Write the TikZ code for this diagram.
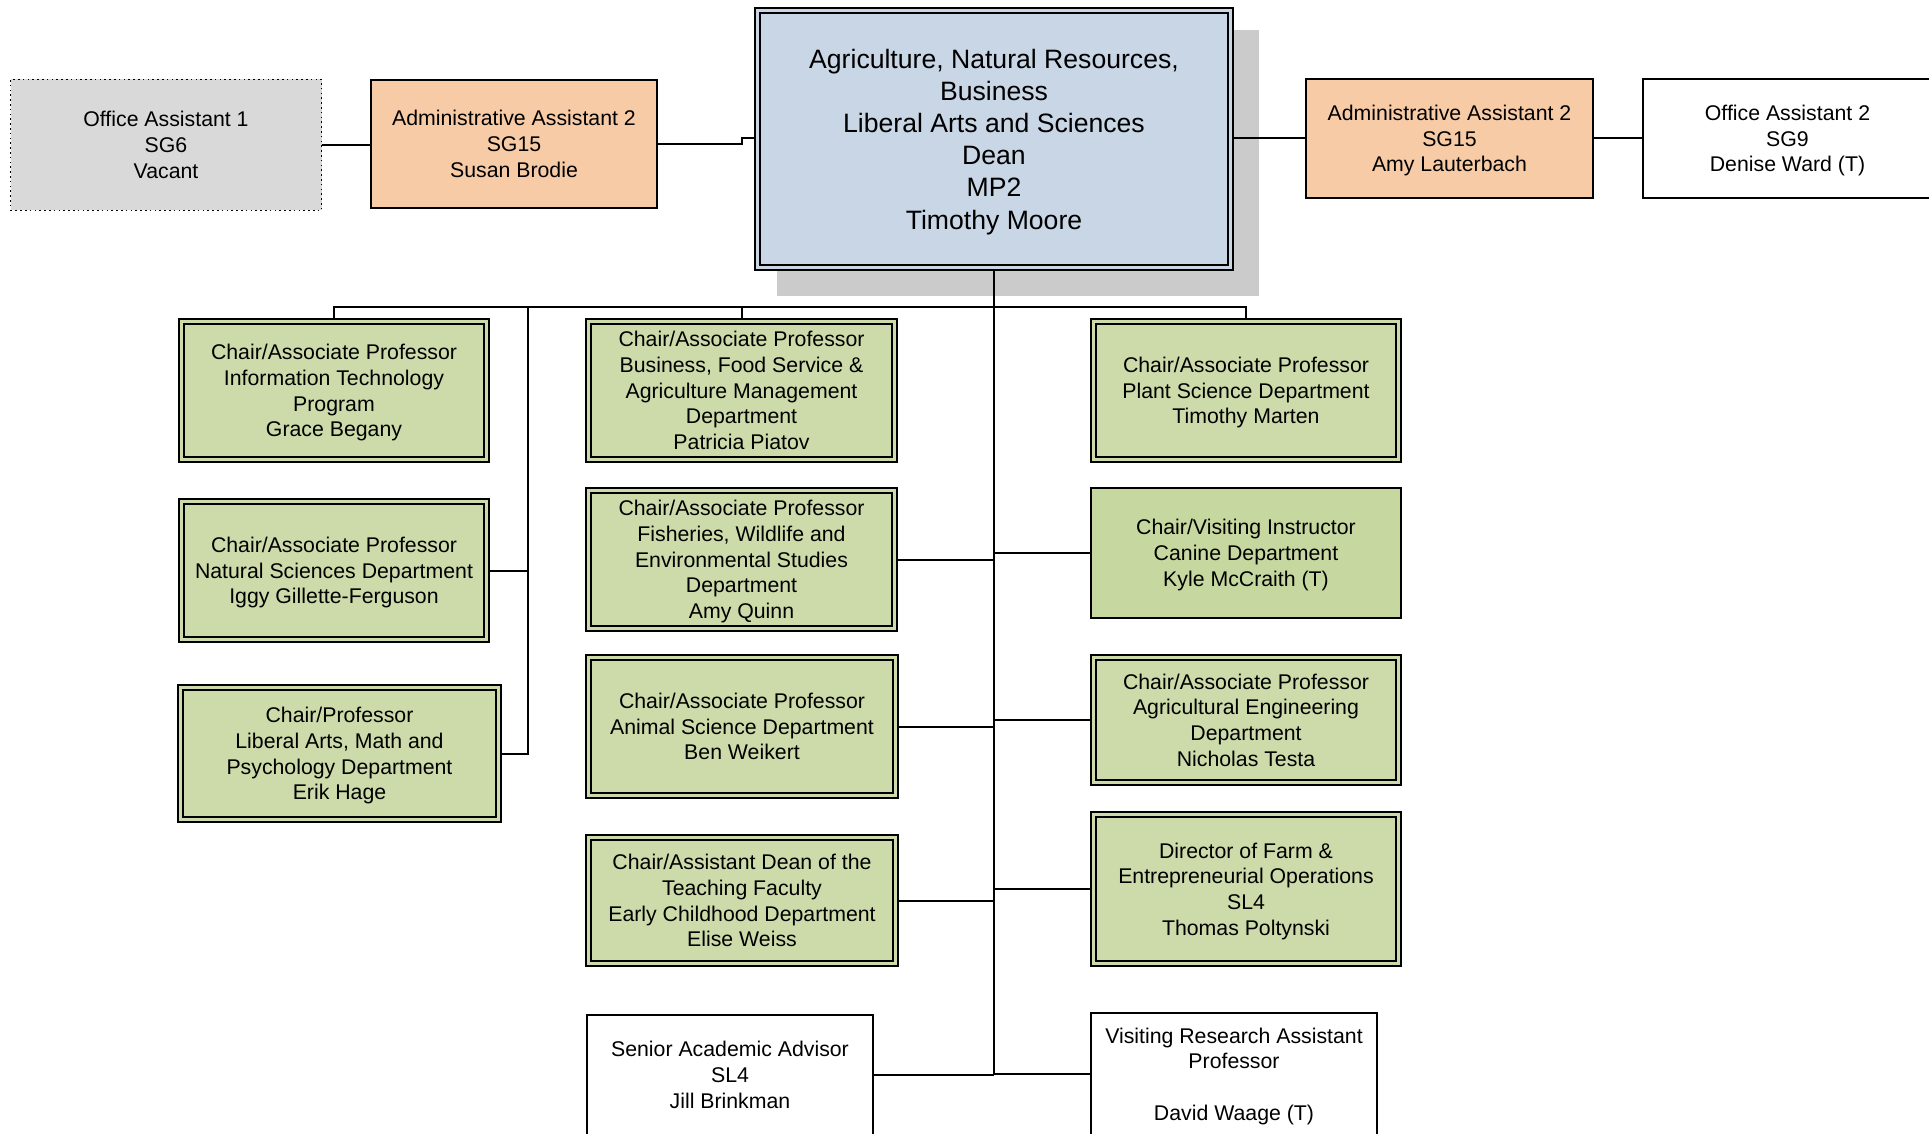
\documentclass[tikz,border=0pt]{standalone}
\usepackage{fontspec}
\setmainfont{Liberation Sans}
\usetikzlibrary{fit}
\definecolor{greenfill}{HTML}{CCDBA9}
\definecolor{caninefill}{HTML}{C6D89F}
\definecolor{peach}{HTML}{F8CBA7}
\definecolor{deanblue}{HTML}{C8D6E6}
\definecolor{vacantgray}{HTML}{D9D9D9}
\definecolor{shadowgray}{HTML}{CBCBCB}
\pgfdeclarelayer{bg}
\pgfsetlayers{bg,main}
\newcommand\topstrut{\rule{0pt}{0.97em}}
\newcommand\botstrut{\rule[-0.25em]{0pt}{0.25em}}
% #1 box style, #2 text style, #3 name, #4 inset, #5 x1, #6 y1, #7 x2, #8 y2, #9 text
\newcommand\obox[9]{%
  \node[#1, fit={(#5+#4,#6+#4) (#7-#4,#8-#4)}] (#3) {};
  \node[#2] (#3-t) at (#3.center) {\topstrut#9\botstrut};}
\tikzset{
  every node/.style={align=center, inner sep=0pt, outer sep=0pt},
  txt/.style={font=\fontsize{10.64}{12.85}\selectfont, text=black},
  deantxt/.style={font=\fontsize{13.3}{16.1}\selectfont, text=black},
  grn/.style={rectangle, draw=black, fill=greenfill, line width=1.05pt, double=greenfill, double distance=1.35pt},
  plain/.style={rectangle, draw=black, fill=caninefill, line width=1.1pt},
  peachbox/.style={rectangle, draw=black, fill=peach, line width=1pt},
  whitebox/.style={rectangle, draw=black, fill=white, line width=1pt},
  vacant/.style={rectangle, draw=black, fill=vacantgray, line width=0.8pt, dash pattern=on 0.8pt off 1.6pt},
  deanbox/.style={rectangle, draw=black, fill=deanblue, line width=1.2pt, double=deanblue, double distance=1.1pt},
  conn/.style={draw=black, line width=1pt}
}
\begin{document}
\begin{tikzpicture}[x=0.5pt, y=-0.5pt]
\path[use as bounding box] (0,0) rectangle (1929,1134);
\clip (0,0) rectangle (1929,1134);
% top row
\obox{vacant}{txt}{oa1}{0.5}{10}{79}{322}{211}{Office Assistant 1\\SG6\\Vacant}
\obox{peachbox}{txt}{aa2l}{1}{370}{79}{658}{209}{Administrative Assistant 2\\SG15\\Susan Brodie}
\obox{deanbox}{deantxt}{dean}{3.5}{754}{7}{1234}{271}{Agriculture, Natural Resources,\\Business\\Liberal Arts and Sciences\\Dean\\MP2\\Timothy Moore}
\obox{peachbox}{txt}{aa2r}{1}{1305}{78}{1594}{199}{Administrative Assistant 2\\SG15\\Amy Lauterbach}
\obox{whitebox}{txt}{oa2}{1}{1642}{78}{1933}{199}{Office Assistant 2\\SG9\\Denise Ward (T)}
% left column
\obox{grn}{txt}{it}{3.5}{178}{318}{490}{463}{Chair/Associate Professor\\Information Technology\\Program\\Grace Begany}
\obox{grn}{txt}{nat}{3.5}{178}{498}{490}{643}{Chair/Associate Professor\\Natural Sciences Department\\Iggy Gillette-Ferguson}
\obox{grn}{txt}{lib}{3.5}{177}{684}{502}{823}{Chair/Professor\\Liberal Arts, Math and\\Psychology Department\\Erik Hage}
% middle column
\obox{grn}{txt}{biz}{3.5}{585}{318}{898}{463}{Chair/Associate Professor\\Business, Food Service \&\\Agriculture Management\\Department\\Patricia Piatov}
\obox{grn}{txt}{fish}{3.5}{585}{487}{898}{632}{Chair/Associate Professor\\Fisheries, Wildlife and\\Environmental Studies\\Department\\Amy Quinn}
\obox{grn}{txt}{animal}{3.5}{585}{654}{899}{799}{Chair/Associate Professor\\Animal Science Department\\Ben Weikert}
\obox{grn}{txt}{early}{3.5}{585}{834}{899}{967}{Chair/Assistant Dean of the\\Teaching Faculty\\Early Childhood Department\\Elise Weiss}
\obox{whitebox}{txt}{sal}{1}{586}{1014}{874}{1136}{Senior Academic Advisor\\SL4\\Jill Brinkman}
% right column
\obox{grn}{txt}{plant}{3.5}{1090}{318}{1402}{463}{Chair/Associate Professor\\Plant Science Department\\Timothy Marten}
\obox{plain}{txt}{canine}{1.1}{1090}{487}{1402}{619}{Chair/Visiting Instructor\\Canine Department\\Kyle McCraith (T)}
\obox{grn}{txt}{ageng}{3.5}{1090}{654}{1402}{786}{Chair/Associate Professor\\Agricultural Engineering\\Department\\Nicholas Testa}
\obox{grn}{txt}{farm}{3.5}{1090}{811}{1402}{967}{Director of Farm \&\\Entrepreneurial Operations\\SL4\\Thomas Poltynski}
\obox{whitebox}{txt}{visit}{1}{1090}{1012}{1378}{1136}{Visiting Research Assistant\\Professor\\\mbox{}\\David Waage (T)}
% connectors
\coordinate (bus) at (994,307);
\coordinate (lv) at (528,307);
\coordinate (jog) at (742,138);
\begin{pgfonlayer}{bg}
\fill[shadowgray] (777,30) rectangle (1259,296);
\draw[conn] (oa1.east) -- (oa1.east -| aa2l.west);
\draw[conn] (aa2l.east) -| (jog) -- (jog -| dean.west);
\draw[conn] (dean.east |- aa2r.west) -- (aa2r.west);
\draw[conn] (aa2r.east) -- (aa2r.east -| oa2.west);
\draw[conn] (it.north) |- (plant.north |- bus) -- (plant.north);
\draw[conn] (biz.north) -- (biz.north |- bus);
\draw[conn] (lv) |- (lib.east);
\draw[conn] (nat.east) -- (nat.east -| lv);
\draw[conn] (dean.south) -- (dean.south |- sal.east);
\draw[conn] (fish.east) -- (fish.east -| dean.south);
\draw[conn] (animal.east) -- (animal.east -| dean.south);
\draw[conn] (early.east) -- (early.east -| dean.south);
\draw[conn] (sal.east) -- (sal.east -| dean.south);
\draw[conn] (canine.west) -- (canine.west -| dean.south);
\draw[conn] (ageng.west) -- (ageng.west -| dean.south);
\draw[conn] (farm.west) -- (farm.west -| dean.south);
\draw[conn] (visit.west) -- (visit.west -| dean.south);
\end{pgfonlayer}
\end{tikzpicture}
\end{document}
